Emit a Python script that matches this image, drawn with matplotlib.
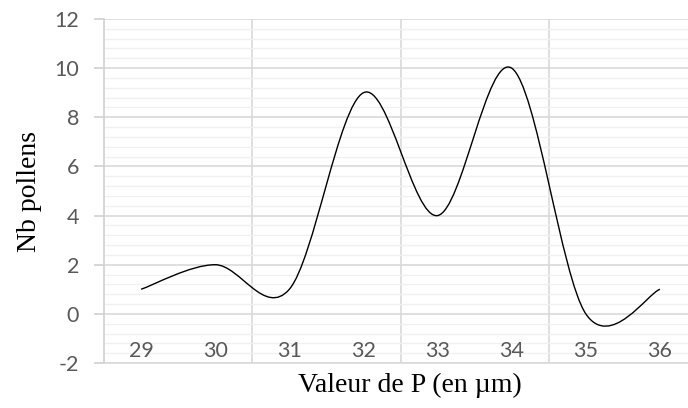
import numpy as np
import matplotlib.pyplot as plt
from matplotlib.path import Path
from matplotlib.patches import PathPatch

plt.rcParams["axes.unicode_minus"] = False

# values
categories = [29, 30, 31, 32, 33, 34, 35, 36]
nb_pollens = [1, 2, 1, 9, 4, 10, 0, 1]

y_ticks = list(range(-2, 13, 2))


def excel_smooth_path(xs, ys):
    # Catmull-Rom style bezier, like Excel's "smoothed line"
    pts = np.column_stack([xs, ys]).astype(float)
    n = len(pts)
    verts = [pts[0]]
    codes = [Path.MOVETO]
    for i in range(n - 1):
        p0 = pts[max(i - 1, 0)]
        p1 = pts[i]
        p2 = pts[i + 1]
        p3 = pts[min(i + 2, n - 1)]
        c1 = p1 + (p2 - p0) / 6
        c2 = p2 - (p3 - p1) / 6
        verts += [c1, c2, p2]
        codes += [Path.CURVE4] * 3
    return Path(verts, codes)


fig = plt.figure(figsize=(6.88, 4.08), dpi=100)
# axes runs a bit past the right edge, as in the original
ax = fig.add_axes([104 / 688, 45 / 408, 593 / 688, 344 / 408])

ax.set_xlim(28.5, 36.5)
ax.set_ylim(-2, 12)

# gridlines
ax.set_yticks(y_ticks)
ax.set_yticks(np.arange(-2, 12, 0.4), minor=True)
ax.grid(True, which="major", axis="y", color="#d9d9d9", linewidth=1.2, zorder=0)
ax.grid(True, which="minor", axis="y", color="#f0f0f0", linewidth=1.0, zorder=0)
for xb in [30.5, 32.5, 34.5]:
    ax.axvline(xb, color="#d9d9d9", linewidth=1.2, zorder=0)

for side in ["top", "right"]:
    ax.spines[side].set_visible(False)
ax.spines["left"].set_color("#d0d0d0")
ax.spines["left"].set_linewidth(1.2)
ax.spines["bottom"].set_color("#d9d9d9")
ax.spines["bottom"].set_linewidth(1.2)

ax.tick_params(axis="y", which="major", length=7, width=1.2, color="#d0d0d0",
               pad=11, labelsize=15.5, labelcolor="#595959")
ax.tick_params(axis="y", which="minor", length=0)
for lab in ax.get_yticklabels():
    lab.set_fontfamily("Lato")
ax.set_xticks([])

# category labels sit inside the plot, just above the bottom line
for c in categories:
    ax.text(c, -1.5, str(c), ha="center", va="center", fontsize=15.5,
            color="#595959", family="Lato")

ax.add_patch(PathPatch(excel_smooth_path(categories, nb_pollens),
                       facecolor="none", edgecolor="black", linewidth=1.0, zorder=3))

fig.text(410 / 688, 1 - 385 / 408, "Valeur de P (en µm)", ha="center", va="center",
         fontsize=20, family="Liberation Serif")
fig.text(30 / 688, 1 - 191 / 408, "Nb pollens", ha="center", va="center",
         rotation=90, fontsize=20, family="Liberation Serif")

fig.savefig("out.png", dpi=100)
